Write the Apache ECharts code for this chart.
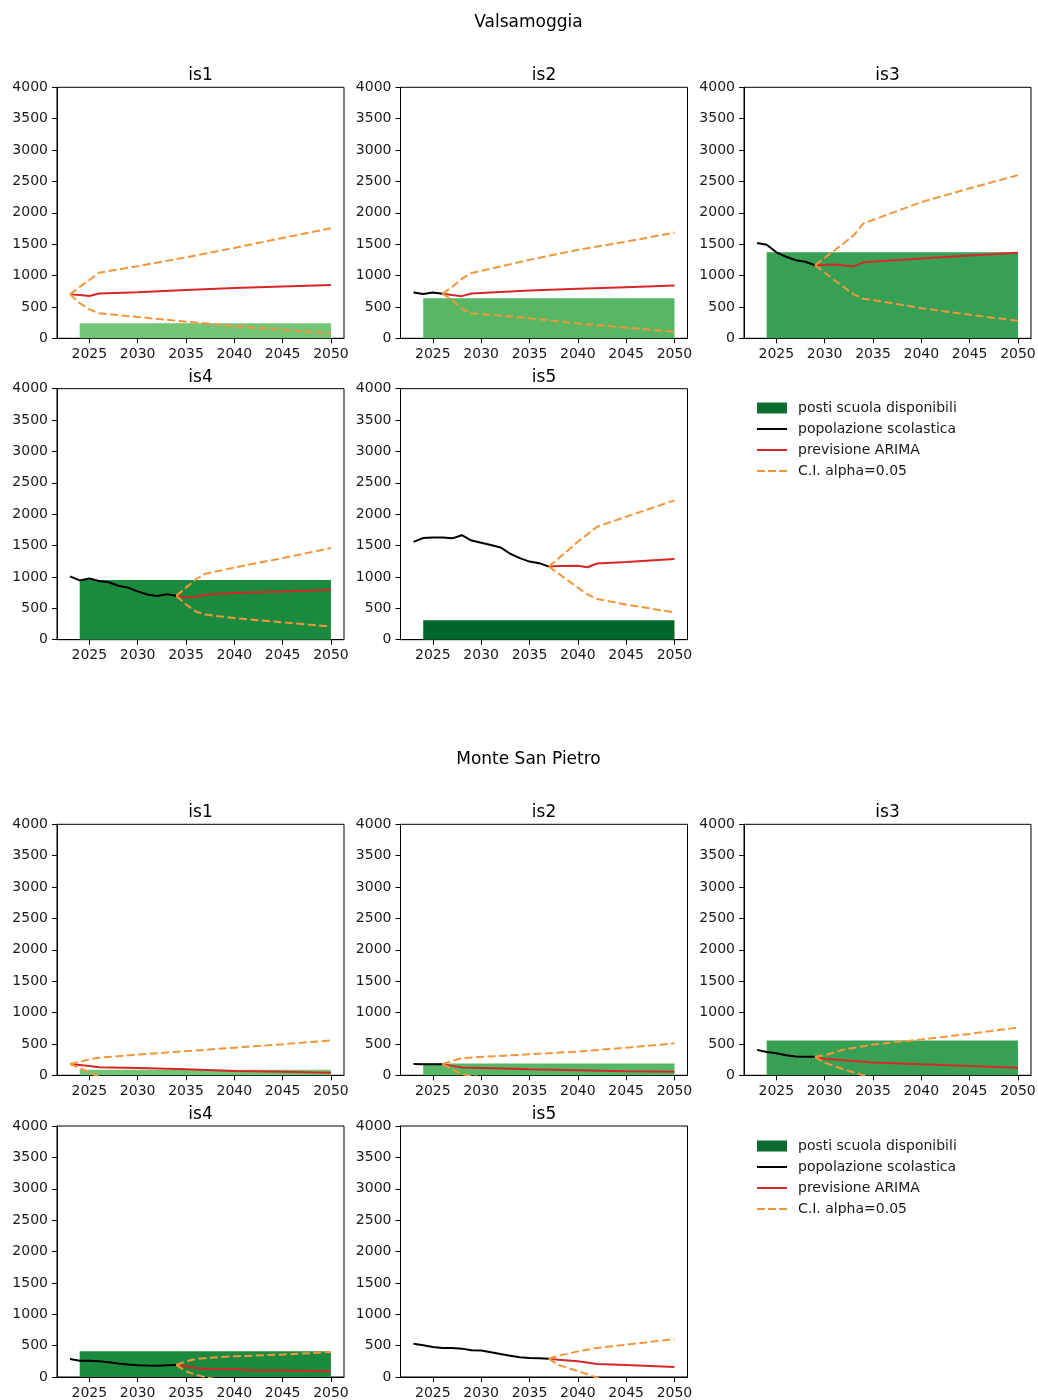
<!DOCTYPE html>
<html>
<head>
<meta charset="utf-8">
<script src="https://cdn.jsdelivr.net/npm/echarts@6/dist/echarts.min.js"></script>
<style>
html,body{margin:0;padding:0;background:#fff;}
#chart{width:1038px;height:1400px;}
</style>
</head>
<body>
<div id="chart"></div>
<script>
// ---------- DATA ----------
const municipalities = ['Valsamoggia', 'Monte San Pietro'];
const panelNames = ['is1', 'is2', 'is3', 'is4', 'is5'];
const xTicks = [2025, 2030, 2035, 2040, 2045, 2050];
const barSpan = [2024, 2050];

// Valsamoggia
const valsPosti = [240, 640, 1370, 950, 310];
const valsPop = [
  [[2023,700]],
  [[2023,730],[2024,705],[2025,730],[2026,710]],
  [[2023,1520],[2024,1490],[2025,1370],[2026,1300],[2027,1245],[2028,1220],[2029,1165]],
  [[2023,1010],[2024,945],[2025,975],[2026,935],[2027,915],[2028,860],[2029,830],[2030,770],[2031,720],[2032,695],[2033,725],[2034,700]],
  [[2023,1560],[2024,1620],[2025,1630],[2026,1630],[2027,1615],[2028,1665],[2029,1580],[2030,1545],[2031,1510],[2032,1470],[2033,1370],[2034,1300],[2035,1245],[2036,1220],[2037,1165]]
];
const valsArima = [
  [[2023,700],[2024,690],[2025,675],[2026,715],[2030,735],[2035,770],[2040,800],[2045,825],[2050,850]],
  [[2026,710],[2027,690],[2028,672],[2029,715],[2035,760],[2040,790],[2045,815],[2050,840]],
  [[2029,1165],[2031,1175],[2033,1145],[2034,1210],[2040,1270],[2045,1320],[2050,1365]],
  [[2034,700],[2035,675],[2036,680],[2037,715],[2040,745],[2045,770],[2050,795]],
  [[2037,1165],[2038,1175],[2040,1180],[2041,1155],[2042,1215],[2045,1240],[2050,1285]]
];
const valsCiUpper = [
  [[2023,700],[2024,820],[2025,930],[2026,1045],[2030,1150],[2035,1290],[2040,1440],[2045,1600],[2050,1755]],
  [[2026,710],[2027,820],[2028,950],[2029,1040],[2035,1250],[2040,1410],[2045,1540],[2050,1685]],
  [[2029,1165],[2031,1400],[2033,1640],[2034,1830],[2040,2170],[2045,2390],[2050,2600]],
  [[2034,700],[2035,830],[2036,960],[2037,1050],[2040,1150],[2045,1300],[2050,1460]],
  [[2037,1165],[2040,1560],[2042,1800],[2045,1960],[2050,2220]]
];
const valsCiLower = [
  [[2023,700],[2024,560],[2025,460],[2026,400],[2030,340],[2035,265],[2040,195],[2045,135],[2050,80]],
  [[2026,710],[2027,610],[2028,470],[2029,400],[2035,320],[2040,235],[2045,170],[2050,105]],
  [[2029,1165],[2031,930],[2033,700],[2034,630],[2035,610],[2040,480],[2045,375],[2050,280]],
  [[2034,700],[2035,560],[2036,450],[2037,400],[2040,345],[2045,275],[2050,210]],
  [[2037,1165],[2040,830],[2041,720],[2042,650],[2045,560],[2050,435]]
];

// Monte San Pietro
const mspPosti = [90, 190, 555, 410, 0];
const mspPop = [
  [[2023,180]],
  [[2023,180],[2024,178],[2025,178],[2026,178]],
  [[2023,405],[2024,370],[2025,350],[2026,320],[2027,300],[2028,295],[2029,295]],
  [[2023,286],[2024,260],[2025,260],[2026,250],[2027,235],[2028,215],[2029,198],[2030,188],[2031,182],[2032,180],[2033,186],[2034,192]],
  [[2023,530],[2024,505],[2025,478],[2026,462],[2027,462],[2028,452],[2029,425],[2030,424],[2031,395],[2032,366],[2033,340],[2034,313],[2035,302],[2036,300],[2037,292]]
];
const mspArima = [
  [[2023,180],[2024,165],[2025,150],[2026,130],[2030,115],[2035,95],[2040,70],[2045,55],[2050,40]],
  [[2026,178],[2027,150],[2028,125],[2035,95],[2040,80],[2045,65],[2050,55]],
  [[2029,295],[2030,265],[2035,205],[2040,175],[2045,148],[2050,122]],
  [[2034,192],[2035,170],[2036,143],[2037,127],[2040,125],[2042,108],[2045,105],[2050,90]],
  [[2037,292],[2038,276],[2040,250],[2042,208],[2045,192],[2050,160]]
];
const mspCiUpper = [
  [[2023,180],[2024,215],[2025,255],[2026,280],[2030,330],[2035,385],[2040,440],[2045,495],[2050,555]],
  [[2026,178],[2027,230],[2028,275],[2035,335],[2040,378],[2045,440],[2050,510]],
  [[2029,295],[2030,320],[2032,410],[2035,490],[2040,570],[2045,660],[2050,760]],
  [[2034,192],[2035,250],[2036,285],[2037,302],[2040,330],[2045,358],[2050,398]],
  [[2037,292],[2038,340],[2040,408],[2042,462],[2045,515],[2050,605]]
];
const mspCiLower = [
  [[2023,180],[2024,115],[2025,45],[2026,-20],[2030,-100],[2040,-300],[2050,-475]],
  [[2026,178],[2027,95],[2028,15],[2035,-150],[2050,-400]],
  [[2029,295],[2030,200],[2032,95],[2034,0],[2040,-220],[2050,-510]],
  [[2034,192],[2035,90],[2036,37],[2037,-5],[2040,-80],[2050,-220]],
  [[2037,292],[2038,190],[2040,95],[2042,-10],[2045,-110],[2050,-280]]
];

const seriesNames = ['posti scuola disponibili', 'popolazione scolastica', 'previsione ARIMA', 'C.I. alpha=0.05'];

// ---------- STYLE / LAYOUT ----------
const FONT = 'DejaVu Sans';
const barColors = ['#74c476', '#58b765', '#38a055', '#1b8a3e', '#00662b'];
const legendBarColor = '#0d6b31';
const colLeft = [57, 400.5, 744];
const rowTop = [87.3, 388.7, 824.3, 1126];
const gridW = 287, gridH = 251;
const supTop = [14, 751];
const legendTop = [401, 1139];
const ciColor = '#f2963c';
const arimaColor = '#d62728';
const solidIcon = 'path://M0,0H30V2H0Z';
const dashIcon = 'path://M0,0H8V2H0Z M11,0H19V2H11Z M22,0H30V2H22Z';

const muniData = [
  {posti: valsPosti, pop: valsPop, arima: valsArima, up: valsCiUpper, lo: valsCiLower},
  {posti: mspPosti, pop: mspPop, arima: mspArima, up: mspCiUpper, lo: mspCiLower}
];

const grids = [], xAxes = [], yAxes = [], series = [], titles = [], legends = [];

function renderBar(params, api) {
  const p0 = api.coord([api.value(0), api.value(2)]);
  const p1 = api.coord([api.value(1), 0]);
  return {
    type: 'rect',
    shape: {x: p0[0], y: p0[1], width: p1[0] - p0[0], height: p1[1] - p0[1]},
    style: {fill: api.visual('color')}
  };
}
const plainNum = v => String(v);

municipalities.forEach((mName, mi) => {
  titles.push({
    text: mName, left: 528.5, top: supTop[mi], textAlign: 'center', padding: 0,
    textStyle: {fontSize: 17, fontWeight: 'normal', color: '#000', fontFamily: FONT}
  });
  const d = muniData[mi];
  panelNames.forEach((pName, i) => {
    const idx = grids.length;
    const col = i % 3, row = Math.floor(i / 3);
    const left = colLeft[col], top = rowTop[mi * 2 + row];
    grids.push({left: left, top: top, width: gridW, height: gridH, show: true,
      borderColor: '#000', borderWidth: 1, backgroundColor: 'transparent', outerBoundsMode: 'none'});
    titles.push({
      text: pName, left: left + gridW / 2, top: top - 20, textAlign: 'center', padding: 0,
      textStyle: {fontSize: 17, fontWeight: 'normal', color: '#000', fontFamily: FONT}
    });
    xAxes.push({
      type: 'value', gridIndex: idx, min: 2021.65, max: 2051.35,
      axisLine: {show: true, onZero: false, lineStyle: {color: '#000', width: 1}},
      axisTick: {show: true, length: 5, customValues: xTicks, lineStyle: {color: '#000'}},
      axisLabel: {customValues: xTicks, margin: 9, fontSize: 14, color: '#1a1a1a', fontFamily: FONT, formatter: plainNum},
      splitLine: {show: false}
    });
    yAxes.push({
      type: 'value', gridIndex: idx, min: 0, max: 4000, interval: 500,
      axisLine: {show: true, onZero: false, lineStyle: {color: '#000', width: 1}},
      axisTick: {show: true, length: 5, lineStyle: {color: '#000'}},
      axisLabel: {margin: 9, fontSize: 14, color: '#1a1a1a', fontFamily: FONT, formatter: plainNum},
      splitLine: {show: false}
    });
    series.push({
      type: 'custom', name: seriesNames[0], xAxisIndex: idx, yAxisIndex: idx,
      data: [[barSpan[0], barSpan[1], d.posti[i]]], encode: {x: [0, 1], y: 2},
      renderItem: renderBar, itemStyle: {color: barColors[i]}, z: 1, silent: true
    });
    series.push({
      type: 'line', name: seriesNames[1], xAxisIndex: idx, yAxisIndex: idx, data: d.pop[i],
      symbol: 'none', lineStyle: {color: '#000', width: 2}, itemStyle: {color: '#000'}, z: 3, silent: true, clip: true
    });
    series.push({
      type: 'line', name: seriesNames[2], xAxisIndex: idx, yAxisIndex: idx, data: d.arima[i],
      symbol: 'none', lineStyle: {color: arimaColor, width: 2}, itemStyle: {color: arimaColor}, z: 4, silent: true, clip: true
    });
    [d.up[i], d.lo[i]].forEach(arr => {
      series.push({
        type: 'line', name: seriesNames[3], xAxisIndex: idx, yAxisIndex: idx, data: arr,
        symbol: 'none', lineStyle: {color: ciColor, width: 2, type: [8, 3.5]}, itemStyle: {color: ciColor}, z: 5, silent: true, clip: true
      });
    });
  });
  legends.push({
    orient: 'vertical', left: 757, top: legendTop[mi], itemWidth: 30, itemHeight: 11, itemGap: 7,
    selectedMode: false, padding: 0,
    textStyle: {fontSize: 14, color: '#1a1a1a', fontFamily: FONT, padding: [0, 0, 0, 6]},
    data: [
      {name: seriesNames[0], icon: 'rect', itemStyle: {color: legendBarColor}},
      {name: seriesNames[1], icon: solidIcon, itemStyle: {color: '#000'}},
      {name: seriesNames[2], icon: solidIcon, itemStyle: {color: arimaColor}},
      {name: seriesNames[3], icon: dashIcon, itemStyle: {color: ciColor}}
    ]
  });
});

const chart = echarts.init(document.getElementById('chart'), null, {renderer: 'canvas'});
chart.setOption({
  animation: false,
  backgroundColor: '#fff',
  textStyle: {fontFamily: FONT},
  title: titles,
  legend: legends,
  grid: grids,
  xAxis: xAxes,
  yAxis: yAxes,
  series: series
});
</script>
</body>
</html>
